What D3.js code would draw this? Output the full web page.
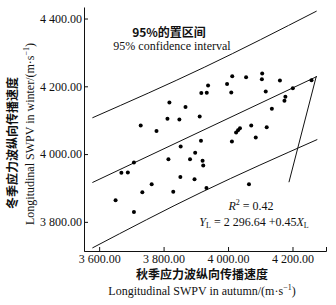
<!DOCTYPE html>
<head>
  <meta charset="utf-8">
  <style>
    body { margin: 0; background: #fff; }
    svg { display: block; }
    .serif { font-family: "Liberation Serif", "DejaVu Serif", serif; fill: #111; }
    .cjk { font-family: "Noto Sans CJK SC", sans-serif; font-weight: bold; fill: #111; }
    .axis path, .axis line { stroke: #111; }
    .axis text { font-family: "Liberation Serif", serif; font-size: 12px; fill: #111; }
  </style>
  <script src="https://cdn.jsdelivr.net/npm/d3@7"></script>
</head>
<body>
<svg id=chart width="336" height="305"></svg>
<script>
// autumn (x) vs winter (y) SWPV
const autumn = [3818, 3868, 3917, 3934, 3938, 3997, 4010, 4013, 4056, 4106, 4105, 4117, 4161, 4201, 4178, 4175, 4259,
  4136, 3912, 3812, 3849, 3729, 3778, 4072, 4120, 4037, 4031, 4025, 4086, 4012, 3916, 3853, 3898, 3708, 3815, 3882,
  3921, 3923, 3669, 3689, 3852, 3896, 3763, 3734, 3830, 3933, 4065, 3651, 3708]
const winter = [4152, 4139, 4180, 4181, 4202, 4207, 4182, 4230, 4227, 4238, 4221, 4185, 4217, 4194, 4169, 4157, 4218,
  4134, 4111, 4104, 4102, 4084, 4068, 4084, 4079, 4076, 4070, 4064, 4049, 4037, 4039, 4022, 4004, 3975, 3985, 3985,
  3980, 3966, 3945, 3946, 3932, 3926, 3911, 3887, 3889, 3900, 3911, 3864, 3829]

// fitted line and 95% band
const fitX = [3579, 4276]
const fitY = [3916, 4229]
const upperX = [3579, 3926, 4275]
const upperY = [4107, 4256, 4422]
const lowerX = [3579, 3919, 4277]
const lowerY = [3723, 3888, 4043]
const leaderX = [4274, 4189]
const leaderY = [4230, 3917]

const xTicks = [3600, 3800, 4000, 4200]
const yTicks = [3800, 4000, 4200, 4400]
const fmt = v => d3.format('.2f')(v).replace(/^(\d)(\d{3})/, '$1 $2')

const svg = d3.select('#chart')
const x = d3.scaleLinear().domain([3553, 4304]).range([84, 326])
const y = d3.scaleLinear().domain([3714, 4434]).range([251, 7])

svg.append('g').attr('class', 'axis').attr('transform', 'translate(0,251)')
  .call(d3.axisBottom(x).tickValues(xTicks).tickFormat(fmt).tickSizeInner(-4).tickSizeOuter(-4).tickPadding(3))
svg.append('g').attr('class', 'axis').attr('transform', 'translate(84,0)')
  .call(d3.axisLeft(y).tickValues(yTicks).tickFormat(fmt).tickSizeInner(-4).tickSizeOuter(0).tickPadding(2))

const line = d3.line().x(d => x(d[0])).y(d => y(d[1]))
const curve = d3.line().x(d => x(d[0])).y(d => y(d[1])).curve(d3.curveNatural)
const lines = [
  [line, d3.zip(fitX, fitY)],
  [curve, d3.zip(upperX, upperY)],
  [curve, d3.zip(lowerX, lowerY)],
  [line, d3.zip(leaderX, leaderY)]
]
svg.append('g').selectAll('path').data(lines).join('path')
  .attr('d', d => d[0](d[1]))
  .attr('fill', 'none').attr('stroke', '#111').attr('stroke-width', 1)

svg.append('g').selectAll('circle').data(d3.zip(autumn, winter)).join('circle')
  .attr('cx', d => x(d[0])).attr('cy', d => y(d[1])).attr('r', 2).attr('fill', '#000')

// annotations
svg.append('text').attr('class', 'cjk').attr('x', 169).attr('y', 37).attr('text-anchor', 'middle')
  .attr('font-size', 12).text('95%的置区间')
svg.append('text').attr('class', 'serif').attr('x', 172).attr('y', 50).attr('text-anchor', 'middle')
  .attr('font-size', 12).text('95% confidence interval')

const r2 = svg.append('text').attr('class', 'serif').attr('x', 251).attr('y', 210)
  .attr('text-anchor', 'middle').attr('font-size', 12)
r2.append('tspan').attr('font-style', 'italic').text('R')
r2.append('tspan').attr('font-size', 8).attr('dy', -5).text('2')
r2.append('tspan').attr('dy', 5).text(' = 0.42')

const eq = svg.append('text').attr('class', 'serif').attr('x', 254).attr('y', 226)
  .attr('text-anchor', 'middle').attr('font-size', 12)
eq.append('tspan').attr('font-style', 'italic').text('Y')
eq.append('tspan').attr('font-size', 8).attr('dy', 2).text('L')
eq.append('tspan').attr('dy', -2).text(' = 2 296.64 +0.45')
eq.append('tspan').attr('font-style', 'italic').text('X')
eq.append('tspan').attr('font-size', 8).attr('dy', 2).text('L')

// axis titles
svg.append('text').attr('class', 'cjk').attr('x', 202).attr('y', 279).attr('text-anchor', 'middle')
  .attr('font-size', 12).text('秋季应力波纵向传播速度')
const xt = svg.append('text').attr('class', 'serif').attr('x', 202).attr('y', 295).attr('text-anchor', 'middle')
  .attr('font-size', 12)
xt.append('tspan').text('Longitudinal SWPV in autumn/(m·s')
xt.append('tspan').attr('font-size', 8).attr('dy', -5).text('−1')
xt.append('tspan').attr('dy', 5).text(')')

svg.append('text').attr('class', 'cjk').attr('transform', 'translate(17,143) rotate(-90)')
  .attr('text-anchor', 'middle').attr('font-size', 12).text('冬季应力波纵向传播速度')
const yt = svg.append('text').attr('class', 'serif').attr('transform', 'translate(34,134) rotate(-90)')
  .attr('text-anchor', 'middle').attr('font-size', 12)
yt.append('tspan').text('Longitudinal SWPV in winter/(m·s')
yt.append('tspan').attr('font-size', 8).attr('dy', -5).text('−1')
yt.append('tspan').attr('dy', 5).text(')')
</script>
</body>
